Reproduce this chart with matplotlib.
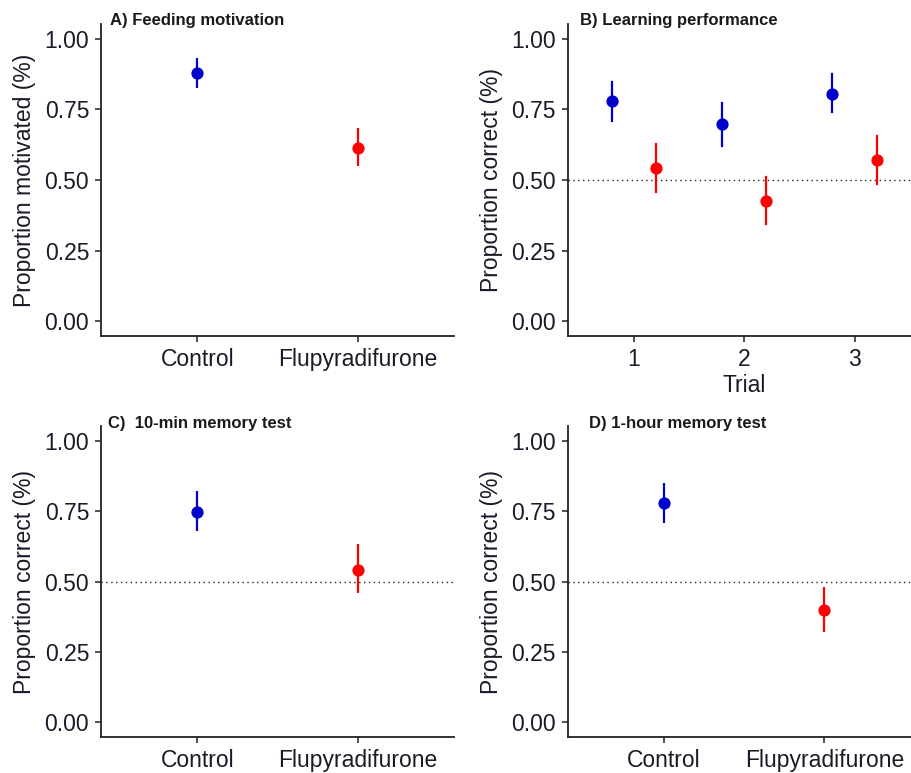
import matplotlib
matplotlib.use("Agg")
import matplotlib.pyplot as plt

plt.rcParams['font.family'] = ['Liberation Sans', 'DejaVu Sans']

# data
groups = ["Control", "Flupyradifurone"]
colors = ["#0000CD", "#FF0000"]

# A) feeding motivation
motiv_mean = [0.879, 0.614]
motiv_lo = [0.827, 0.551]
motiv_hi = [0.931, 0.683]

# B) learning performance, three trials
trials = [1, 2, 3]
learn_ctrl_mean = [0.780, 0.699, 0.806]
learn_ctrl_lo = [0.710, 0.621, 0.742]
learn_ctrl_hi = [0.849, 0.772, 0.875]
learn_flu_mean = [0.544, 0.427, 0.571]
learn_flu_lo = [0.459, 0.343, 0.487]
learn_flu_hi = [0.628, 0.512, 0.656]

# C) 10-min memory
mem10_mean = [0.748, 0.542]
mem10_lo = [0.680, 0.458]
mem10_hi = [0.822, 0.633]

# D) 1-hour memory
mem60_mean = [0.779, 0.399]
mem60_lo = [0.707, 0.321]
mem60_hi = [0.849, 0.482]

yticks = [0.0, 0.25, 0.5, 0.75, 1.0]

fig = plt.figure(figsize=(9.12, 7.73), dpi=100)

W, H = 912, 773
def add_ax(left, top, bottom, width=353):
    return fig.add_axes([left / W, 1 - bottom / H, width / W, (bottom - top) / H])

axA = add_ax(101, 24, 336)
axB = add_ax(567.7, 24, 336)
axC = add_ax(101, 426, 737.3)
axD = add_ax(567.7, 426, 737.3)


def style(ax, ylabel):
    ax.set_ylim(-0.053, 1.053)
    ax.set_yticks(yticks)
    ax.set_yticklabels(["0.00", "0.25", "0.50", "0.75", "1.00"])
    for s in ["top", "right"]:
        ax.spines[s].set_visible(False)
    for s in ["left", "bottom"]:
        ax.spines[s].set_linewidth(1.3)
        ax.spines[s].set_color("#222222")
    ax.tick_params(axis="both", length=4.5, width=1.1, color="#222222",
                   labelsize=16.5, labelcolor="#1a1a2a", pad=4)
    ax.set_ylabel(ylabel, fontsize=16.5, color="#1a1a2a", labelpad=6)


def two_groups(ax, mean, lo, hi):
    xs = [1, 2]
    for x, m, l, h, c in zip(xs, mean, lo, hi, colors):
        ax.plot([x, x], [l, h], color=c, lw=1.6, solid_capstyle="butt")
        ax.plot(x, m, "o", color=c, ms=7.8)
    ax.set_xlim(0.4, 2.6)
    ax.set_xticks(xs)
    ax.set_xticklabels(groups)


dots = (0, (1, 2.5))

# A
style(axA, "Proportion motivated (%)")
two_groups(axA, motiv_mean, motiv_lo, motiv_hi)

# B
style(axB, "Proportion correct (%)")
axB.axhline(0.5, color="#222222", lw=1.0, ls=dots)
dodge = 0.2
for i, t in enumerate(trials):
    axB.plot([t - dodge] * 2, [learn_ctrl_lo[i], learn_ctrl_hi[i]], color=colors[0], lw=1.6)
    axB.plot(t - dodge, learn_ctrl_mean[i], "o", color=colors[0], ms=7.8)
    axB.plot([t + dodge] * 2, [learn_flu_lo[i], learn_flu_hi[i]], color=colors[1], lw=1.6)
    axB.plot(t + dodge, learn_flu_mean[i], "o", color=colors[1], ms=7.8)
axB.set_xlim(0.4, 3.6)
axB.set_xticks(trials)
axB.set_xticklabels([str(t) for t in trials])
axB.set_xlabel("Trial", fontsize=16.5, color="#1a1a2a", labelpad=2)

# C
style(axC, "Proportion correct (%)")
axC.axhline(0.5, color="#222222", lw=1.0, ls=dots)
two_groups(axC, mem10_mean, mem10_lo, mem10_hi)

# D
style(axD, "Proportion correct (%)")
axD.axhline(0.5, color="#222222", lw=1.0, ls=dots)
two_groups(axD, mem60_mean, mem60_lo, mem60_hi)

# panel titles
tkw = dict(fontsize=12, fontweight="bold", color="#1a1a1a", va="center", ha="left")
fig.text(110 / W, 1 - 20 / H, "A) Feeding motivation", **tkw)
fig.text(580 / W, 1 - 20 / H, "B) Learning performance", **tkw)
fig.text(108 / W, 1 - 423.5 / H, "C)  10-min memory test", **tkw)
fig.text(589 / W, 1 - 423.5 / H, "D) 1-hour memory test", **tkw)

fig.savefig("out.png", dpi=100)
